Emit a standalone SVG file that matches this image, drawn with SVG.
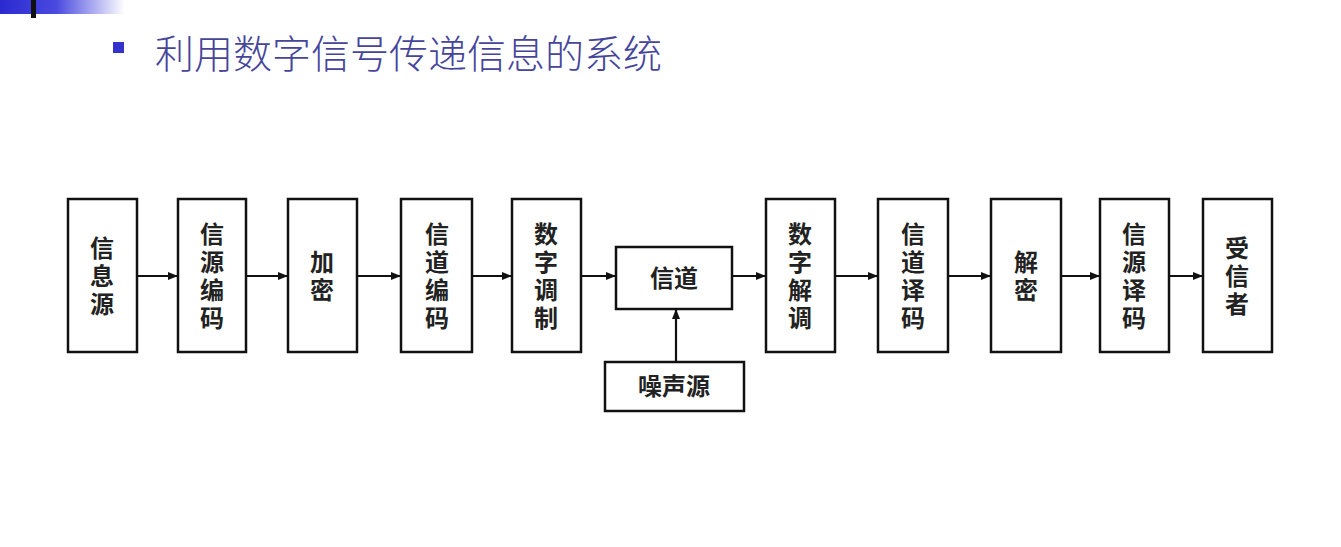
<svg xmlns="http://www.w3.org/2000/svg" width="1341" height="547" viewBox="0 0 1341 547">
<defs>
<linearGradient id="g" x1="0" y1="0" x2="1" y2="0">
<stop offset="0" stop-color="#2a2ad0"/>
<stop offset="0.45" stop-color="#4a4ae0"/>
<stop offset="1" stop-color="#ffffff"/>
</linearGradient>
<marker id="ah" markerWidth="10" markerHeight="8" refX="10" refY="4" orient="auto" markerUnits="userSpaceOnUse">
<path d="M0,0 L10,4 L0,8 Z" fill="#111"/>
</marker>
<style>
.box{fill:#fff;stroke:#111;stroke-width:2.5}
.lbl{font-family:"Noto Sans CJK SC","Noto Sans CJK JP",sans-serif;font-size:24px;font-weight:bold;fill:#222;text-anchor:middle}
.v{writing-mode:vertical-rl;letter-spacing:4px}
.con{stroke:#111;stroke-width:2.2;fill:none;marker-end:url(#ah)}
.title{font-family:"Noto Sans CJK SC","Noto Sans CJK JP",sans-serif;font-size:39px;font-weight:300;fill:#45459a}
</style>
</defs>
<rect x="0" y="0" width="1341" height="547" fill="#fff"/>
<rect x="0" y="0" width="125" height="14" fill="url(#g)"/>
<rect x="31" y="0" width="5" height="18" fill="#111"/>
<rect x="113" y="42" width="11" height="11" fill="#3333cc"/>
<text class="title" x="155" y="68">利用数字信号传递信息的系统</text>

<g id="connectors">
<line class="con" x1="137" y1="276" x2="178" y2="276"/>
<line class="con" x1="246" y1="276" x2="288" y2="276"/>
<line class="con" x1="357" y1="276" x2="401" y2="276"/>
<line class="con" x1="472" y1="276" x2="512" y2="276"/>
<line class="con" x1="581" y1="276" x2="616" y2="276"/>
<line class="con" x1="732" y1="276" x2="766" y2="276"/>
<line class="con" x1="835" y1="276" x2="878" y2="276"/>
<line class="con" x1="948" y1="276" x2="991" y2="276"/>
<line class="con" x1="1061" y1="276" x2="1100" y2="276"/>
<line class="con" x1="1169" y1="276" x2="1203" y2="276"/>
<line class="con" x1="676" y1="362" x2="676" y2="309"/>
</g>

<g id="n1"><rect class="box" x="68" y="199" width="69" height="153"/>
<text class="lbl v" x="102" y="278">信息源</text></g>
<g id="n2"><rect class="box" x="178" y="199" width="68" height="153"/>
<text class="lbl v" x="212" y="278">信源编码</text></g>
<g id="n3"><rect class="box" x="288" y="199" width="69" height="153"/>
<text class="lbl v" x="322" y="278">加密</text></g>
<g id="n4"><rect class="box" x="401" y="199" width="71" height="153"/>
<text class="lbl v" x="437" y="278">信道编码</text></g>
<g id="n5"><rect class="box" x="512" y="199" width="69" height="153"/>
<text class="lbl v" x="546" y="278">数字调制</text></g>
<g id="n6"><rect class="box" x="616" y="247" width="116" height="62"/>
<text class="lbl" x="674" y="287">信道</text></g>
<g id="n7"><rect class="box" x="605" y="362" width="139" height="49"/>
<text class="lbl" x="674" y="395">噪声源</text></g>
<g id="n8"><rect class="box" x="766" y="199" width="69" height="153"/>
<text class="lbl v" x="800" y="278">数字解调</text></g>
<g id="n9"><rect class="box" x="878" y="199" width="70" height="153"/>
<text class="lbl v" x="913" y="278">信道译码</text></g>
<g id="n10"><rect class="box" x="991" y="199" width="70" height="153"/>
<text class="lbl v" x="1026" y="278">解密</text></g>
<g id="n11"><rect class="box" x="1100" y="199" width="69" height="153"/>
<text class="lbl v" x="1134" y="278">信源译码</text></g>
<g id="n12"><rect class="box" x="1203" y="199" width="69" height="153"/>
<text class="lbl v" x="1237" y="278">受信者</text></g>
</svg>
